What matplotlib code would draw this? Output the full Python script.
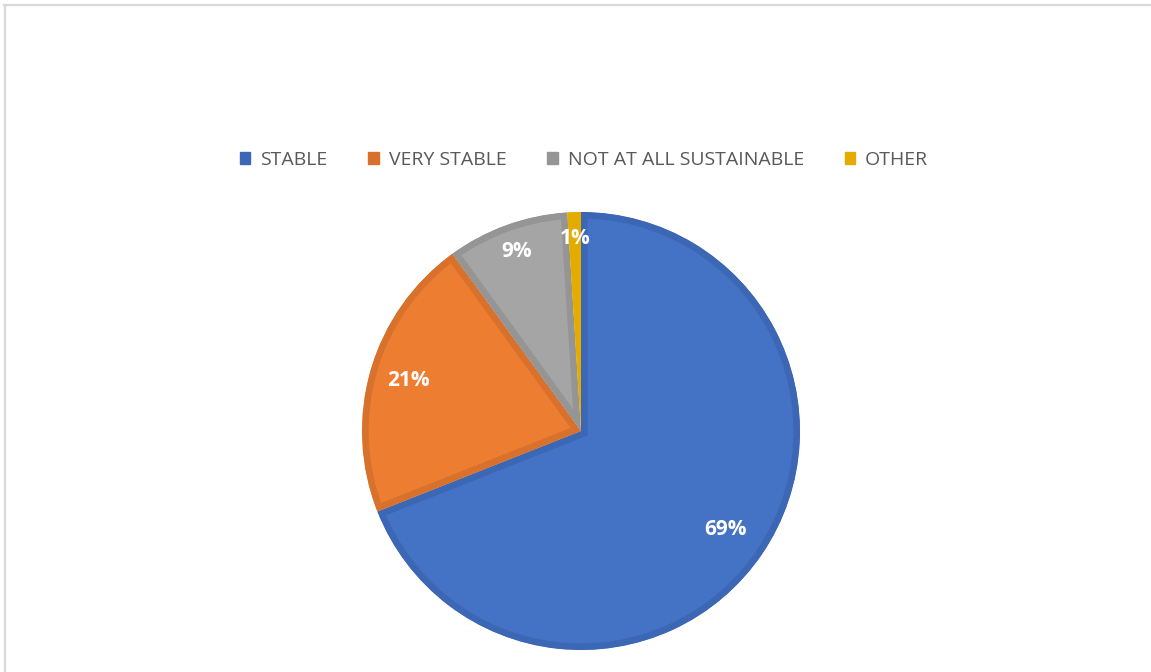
import matplotlib
matplotlib.use('Agg')
import numpy as np
import matplotlib.pyplot as plt
from matplotlib.patches import Patch
from matplotlib.lines import Line2D

labels = ["STABLE", "VERY STABLE", "NOT AT ALL SUSTAINABLE", "OTHER"]
shares = [69, 21, 9, 1]

FILLS = ['#4472C4', '#ED7D31', '#A5A5A5', '#FFC000']
EDGES = ['#3C67B4', '#D7712C', '#959595', '#E5AC00']
LABEL_R = [0.80, 0.82, 0.87, 0.88]   # radial spot of each % label

W, H = 1151, 672
fig = plt.figure(figsize=(W / 100, H / 100), dpi=100)
fig.patch.set_facecolor('white')

# chart frame (top and left borders)
fig.add_artist(Line2D([4 / W, 1], [1 - 5 / H] * 2, transform=fig.transFigure,
                      color='#D9D9D9', lw=1.6))
fig.add_artist(Line2D([5 / W] * 2, [0, 1 - 5 / H], transform=fig.transFigure,
                      color='#D9D9D9', lw=1.6))

cx, cy, half = 581, 431, 220
ax = fig.add_axes([(cx - half) / W, (H - cy - half) / H, 2 * half / W, 2 * half / H])

wedges, _ = ax.pie(shares, colors=FILLS, startangle=90, counterclock=False,
                   radius=219 / 220)
ax.set_xlim(-1, 1)
ax.set_ylim(-1, 1)
ax.set_aspect('equal')
ax.axis('off')

for w, ec in zip(wedges, EDGES):
    # border drawn only on the inside of each slice
    w.set_edgecolor(ec)
    w.set_linewidth(9.5)
    w.set_clip_on(True)
    w.set_clip_path(w.get_path(), w.get_transform())

for w, v, r in zip(wedges, shares, LABEL_R):
    mid = np.deg2rad((w.theta1 + w.theta2) / 2)
    rr = r * w.r
    ax.text(rr * np.cos(mid), rr * np.sin(mid), f"{v}%", ha='center', va='center',
            color='white', fontsize=15, fontweight='bold', family='Open Sans')

handles = [Patch(facecolor=c, edgecolor=c) for c in EDGES]
fig.legend(handles, labels, loc='center', bbox_to_anchor=(584 / W, 1 - 160 / H),
           ncol=4, frameon=False, handlelength=0.55, handleheight=0.55,
           handletextpad=0.5, columnspacing=2.1,
           prop={'family': 'Open Sans', 'size': 14}, labelcolor='#595959')

fig.savefig('out.png', dpi=100, facecolor='white')
